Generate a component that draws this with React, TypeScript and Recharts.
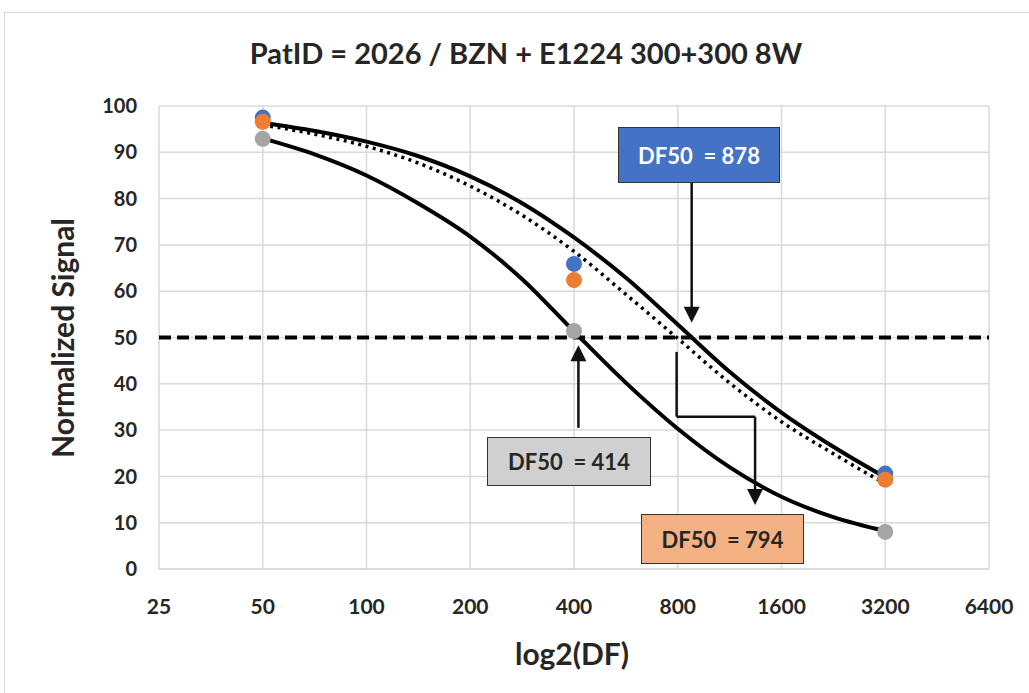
import React from 'react';
import { ComposedChart, Line, Scatter, XAxis, YAxis, CartesianGrid, ReferenceLine } from 'recharts';

// dilution factors and measured signals
const DILUTIONS = [50, 400, 3200];
const BLUE_POINTS = [97.5, 65.9, 20.6];
const ORANGE_POINTS = [96.6, 62.4, 19.3];
const GRAY_POINTS = [92.9, 51.4, 8.0];

// fitted curves
const FIT_DF = [50, 71, 100, 141, 200, 283, 400, 566, 800, 1131, 1600, 2263, 3200];
const BLUE_FIT = [96.4, 94.6, 92.3, 89.2, 84.8, 79.0, 71.6, 62.9, 52.8, 42.6, 33.8, 26.4, 19.8];
const ORANGE_FIT = [95.9, 93.9, 91.3, 87.7, 82.7, 76.4, 68.6, 59.3, 49.8, 40.2, 31.8, 24.9, 18.4];
const GRAY_FIT = [93.0, 89.5, 85.0, 79.0, 71.8, 62.6, 51.3, 40.2, 30.3, 22.0, 15.6, 11.2, 8.2];

const DF_TICKS = [25, 50, 100, 200, 400, 800, 1600, 3200, 6400];
const Y_TICKS = [0, 10, 20, 30, 40, 50, 60, 70, 80, 90, 100];

const FONT = 'Lato, "DejaVu Sans", sans-serif';
const TEXT = '#262626';

const toPoints = (xs: number[], ys: number[]) => xs.map((x, i) => ({ x, y: ys[i] }));

const blueData = toPoints(DILUTIONS, BLUE_POINTS);
const orangeData = toPoints(DILUTIONS, ORANGE_POINTS);
const grayData = toPoints(DILUTIONS, GRAY_POINTS);
const blueFit = toPoints(FIT_DF, BLUE_FIT);
const orangeFit = toPoints(FIT_DF, ORANGE_FIT);
const grayFit = toPoints(FIT_DF, GRAY_FIT);

const dot = (color: string) => (props: any) => (
  <circle cx={props.cx} cy={props.cy} r={8} fill={color} />
);

const arrowShape = (head: boolean) => (props: any) => {
  const { x1, y1, x2, y2 } = props;
  if (x1 == null) return null;
  const dir = y2 > y1 ? 1 : -1;
  return (
    <g>
      <line x1={x1} y1={y1} x2={x2} y2={y2 - (head ? dir * 10 : 0)} stroke="#111" strokeWidth={2.5} />
      {head && (
        <polygon
          points={`${x2 - 8},${y2 - dir * 16} ${x2 + 8},${y2 - dir * 16} ${x2},${y2}`}
          fill="#111"
        />
      )}
    </g>
  );
};

const boxStyle = (bg: string, color: string): React.CSSProperties => ({
  position: 'absolute',
  background: bg,
  color,
  border: '1.5px solid #333',
  boxSizing: 'border-box',
  display: 'flex',
  alignItems: 'center',
  justifyContent: 'center',
  fontFamily: FONT,
  fontWeight: 700,
  fontSize: 22,
  whiteSpace: 'pre',
});

export default function App() {
  return (
    <div style={{ position: 'absolute', left: 0, top: 0, width: 1029, height: 693, background: '#fff', overflow: 'hidden' }}>
      <div style={{ position: 'absolute', left: 4, top: 12, width: 1040, height: 700, border: '1.5px solid #d9d9d9' }} />
      <div
        style={{
          position: 'absolute', left: 176, width: 700, top: 35, textAlign: 'center',
          fontFamily: FONT, fontWeight: 700, fontSize: 29, color: TEXT,
        }}
      >
        PatID = 2026 / BZN + E1224 300+300 8W
      </div>
      <ComposedChart width={1029} height={693} margin={{ top: 106, right: 40, left: 99, bottom: 64 }}>
        <CartesianGrid stroke="#d9d9d9" strokeWidth={1.5} />
        <XAxis
          dataKey="x"
          type="number"
          scale="log"
          domain={[25, 6400]}
          ticks={DF_TICKS}
          allowDataOverflow
          height={60}
          axisLine={{ stroke: '#d9d9d9', strokeWidth: 1.5 }}
          tickLine={false}
          tickSize={0}
          tickMargin={30}
          tick={{ fontSize: 21, fontWeight: 700, fill: TEXT, fontFamily: FONT }}
        />
        <YAxis
          type="number"
          domain={[0, 100]}
          ticks={Y_TICKS}
          width={60}
          axisLine={false}
          tickLine={false}
          tickSize={0}
          tickMargin={22}
          tick={{ fontSize: 20, fontWeight: 700, fill: TEXT, fontFamily: FONT }}
        />
        <ReferenceLine y={50} stroke="#000" strokeWidth={4} strokeDasharray="12 6" />
        <Scatter data={blueData} dataKey="y" fill="#4472c4" shape={dot('#4472c4')} isAnimationActive={false} />
        <Scatter data={orangeData} dataKey="y" fill="#ed7d31" shape={dot('#ed7d31')} isAnimationActive={false} />
        <Scatter data={grayData} dataKey="y" fill="#a5a5a5" shape={dot('#a5a5a5')} isAnimationActive={false} />
        <Line data={grayFit} dataKey="y" type="monotone" stroke="#000" strokeWidth={4} dot={false} isAnimationActive={false} />
        <Line data={orangeFit} dataKey="y" type="monotone" stroke="#000" strokeWidth={3.5} strokeDasharray="3 4.5" dot={false} isAnimationActive={false} />
        <Line data={blueFit} dataKey="y" type="monotone" stroke="#000" strokeWidth={4} dot={false} isAnimationActive={false} />
        <ReferenceLine segment={[{ x: 878, y: 83.4 }, { x: 878, y: 53.2 }]} shape={arrowShape(true)} />
        <ReferenceLine segment={[{ x: 412, y: 30.5 }, { x: 412, y: 48.3 }]} shape={arrowShape(true)} />
        <ReferenceLine segment={[{ x: 794, y: 46.9 }, { x: 794, y: 32.9 }]} shape={arrowShape(false)} />
        <ReferenceLine segment={[{ x: 794, y: 32.9 }, { x: 1341, y: 32.9 }]} shape={arrowShape(false)} />
        <ReferenceLine segment={[{ x: 1341, y: 32.9 }, { x: 1341, y: 13.8 }]} shape={arrowShape(true)} />
      </ComposedChart>
      <div style={{ ...boxStyle('#4472c4', '#fff'), left: 618, top: 127, width: 162, height: 56 }}>{'DF50  = 878'}</div>
      <div style={{ ...boxStyle('#d0d0d0', TEXT), left: 487, top: 437, width: 164, height: 49 }}>{'DF50  = 414'}</div>
      <div style={{ ...boxStyle('#f4b183', TEXT), left: 641, top: 514, width: 163, height: 50 }}>{'DF50  = 794'}</div>
      <div
        style={{
          position: 'absolute', left: 62, top: 338, transform: 'translate(-50%, -50%) rotate(-90deg)',
          fontFamily: FONT, fontWeight: 700, fontSize: 30, color: TEXT, whiteSpace: 'nowrap',
        }}
      >
        Normalized Signal
      </div>
      <div
        style={{
          position: 'absolute', left: 422, width: 300, top: 635, textAlign: 'center',
          fontFamily: FONT, fontWeight: 700, fontSize: 30, color: TEXT,
        }}
      >
        log2(DF)
      </div>
    </div>
  );
}
